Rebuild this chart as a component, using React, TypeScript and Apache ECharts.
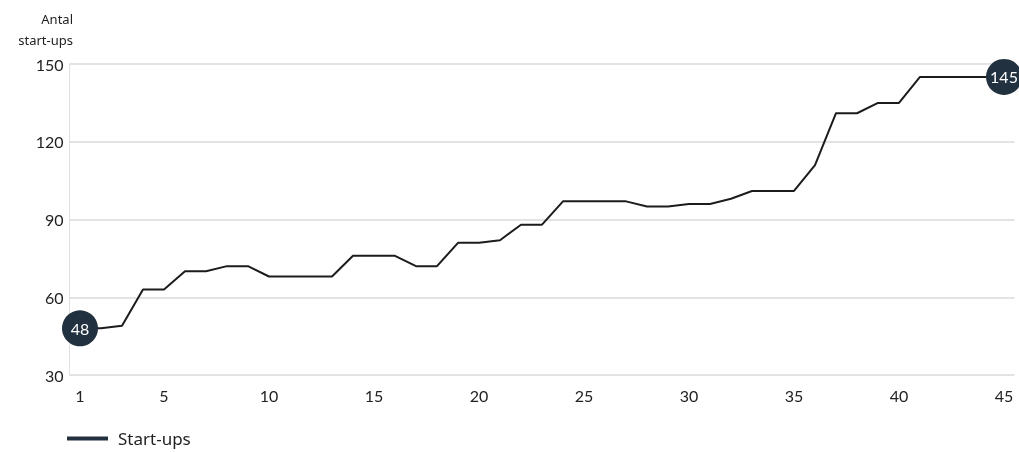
import React, { useEffect, useRef } from "react";
import * as echarts from "echarts";

const categories: string[] = Array.from({ length: 45 }, (_, i) => String(i + 1));
const startups: number[] = [
  48, 48, 49, 63, 63, 70, 70, 72, 72, 68,
  68, 68, 68, 76, 76, 76, 72, 72, 81, 81,
  82, 88, 88, 97, 97, 97, 97, 95, 95, 96,
  96, 98, 101, 101, 101, 111, 131, 131, 135, 135,
  145, 145, 145, 145, 145,
];
const yTicks = { min: 30, max: 150, interval: 30 };
const seriesName = "Start-ups";
const yTitle = "Antal\nstart-ups";

const FONT = "Lato, 'Noto Sans', sans-serif";
const WIDE = "'Noto Sans', sans-serif";
const NAVY = "#22313f";

export default function App() {
  const ref = useRef<HTMLDivElement>(null);
  useEffect(() => {
    if (!ref.current) return;
    const chart = echarts.init(ref.current, null, { renderer: "svg" });
    const last = startups.length - 1;
    const data = startups.map((v, i) =>
      i === 0 || i === last
        ? {
            value: v,
            symbol: "circle",
            symbolSize: 36,
            itemStyle: { color: NAVY },
            label: {
              show: true,
              position: "inside",
              color: "#fff",
              fontSize: 16,
              fontFamily: FONT,
              formatter: "{c}",
            },
          }
        : { value: v, symbol: "none" }
    );
    chart.setOption({
      animation: false,
      textStyle: { fontFamily: FONT },
      grid: { left: 69.5, right: 4.5, top: 64, bottom: 77 },
      graphic: [
        {
          type: "text",
          x: 73,
          y: 8,
          style: {
            text: yTitle,
            textAlign: "right",
            fontSize: 13,
            lineHeight: 21,
            fill: "#222",
            fontFamily: WIDE,
          },
        },
      ],
      legend: {
        left: 67,
        top: 430,
        padding: 0,
        itemWidth: 41,
        itemHeight: 14,
        itemGap: 12,
        icon: "path://M0,5 L41,5 L41,9 L0,9 Z",
        data: [{ name: seriesName, itemStyle: { color: NAVY } }],
        textStyle: { fontSize: 17, color: "#222", fontFamily: WIDE, padding: [0, 0, 0, 5] },
      },
      xAxis: {
        type: "category",
        data: categories,
        boundaryGap: true,
        axisLine: { show: false },
        axisTick: { show: false },
        axisLabel: {
          interval: (i: number) => i === 0 || (i + 1) % 5 === 0,
          fontSize: 16,
          color: "#222",
          margin: 12,
          fontFamily: FONT,
        },
      },
      yAxis: {
        type: "value",
        min: yTicks.min,
        max: yTicks.max,
        interval: yTicks.interval,
        axisLine: { show: true, lineStyle: { color: "#e0e0e0", width: 1 } },
        axisTick: { show: false },
        splitLine: { lineStyle: { color: "#e3e3e3", width: 2 } },
        axisLabel: { fontSize: 16, color: "#222", margin: 6, fontFamily: FONT },
      },
      series: [
        {
          name: seriesName,
          type: "line",
          data,
          color: NAVY,
          lineStyle: { color: "#1c1c1c", width: 2 },
          symbol: "none",
          z: 3,
        },
      ],
    });
    return () => chart.dispose();
  }, []);
  return (
    <div
      ref={ref}
      style={{ position: "fixed", left: 0, top: 0, width: 1019, height: 452 }}
    />
  );
}
